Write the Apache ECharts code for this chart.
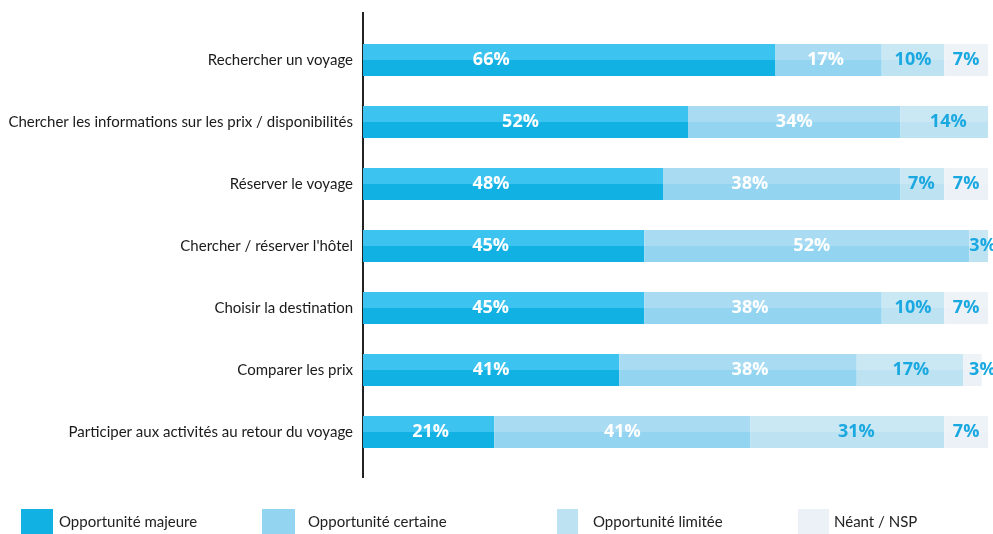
<!DOCTYPE html>
<html>
<head>
<meta charset="utf-8">
<script src="https://cdn.jsdelivr.net/npm/echarts@6/dist/echarts.min.js"></script>
<style>html,body{margin:0;padding:0;background:#fff}#c{width:993px;height:534px}</style>
</head>
<body>
<div id="c"></div>
<script>
var categories = [
  "Rechercher un voyage",
  "Chercher les informations sur les prix / disponibilités",
  "Réserver le voyage",
  "Chercher / réserver l'hôtel",
  "Choisir la destination",
  "Comparer les prix",
  "Participer aux activités au retour du voyage"
];
var seriesNames = ["Opportunité majeure", "Opportunité certaine", "Opportunité limitée", "Néant / NSP"];
var majeure  = [66, 52, 48, 45, 45, 41, 21];
var certaine = [17, 34, 38, 52, 38, 38, 41];
var limitee  = [10, 14, 7, 3, 10, 17, 31];
var neant    = [7, 0, 7, 0, 7, 3, 7];

// horizontal nudges of the value labels (px), as placed in the reference
var labelNudges = [
  [-78, -5, -22, -13, -13, 0, 2],
  [-3, 0, -32, 5, -13, 12, 0],
  [0, 4, -1, 4, 0, 1, 9],
  [0, 0, 0, 0, 0, 10, 0]
];

var topColors = ["#3dc3f0", "#a9dcf3", "#cae7f4", "#eef3f8"];
var botColors = ["#12b1e4", "#93d4f1", "#bde3f2", "#ecf1f8"];
var labelColors = ["#ffffff", "#ffffff", "#1aa8e0", "#1aa8e0"];
var allData = [majeure, certaine, limitee, neant];

function grad(i) {
  return new echarts.graphic.LinearGradient(0, 0, 0, 1, [
    {offset: 0, color: topColors[i]},
    {offset: 0.5, color: topColors[i]},
    {offset: 0.5, color: botColors[i]},
    {offset: 1, color: botColors[i]}
  ]);
}

var series = seriesNames.map(function (n, i) {
  return {
    name: n,
    type: 'bar',
    stack: 'total',
    barWidth: 32,
    data: allData[i].map(function (v, j) {
      return {value: v, label: {offset: [labelNudges[i][j], 0]}};
    }),
    itemStyle: {color: grad(i)},
    label: {
      show: true,
      position: 'inside',
      color: labelColors[i],
      fontFamily: 'Open Sans',
      fontWeight: 'bold',
      fontSize: 18,
      formatter: function (p) { return p.value > 0 ? p.value + '%' : ''; }
    },
    emphasis: {disabled: true}
  };
});

var legendLefts = [21, 262, 557, 798];
var legendWidths = [32, 33, 21, 31];
var legendPads = [1, 8, 10, 0];
var legends = seriesNames.map(function (n, i) {
  return {
    left: legendLefts[i],
    top: 509,
    padding: 0,
    itemWidth: legendWidths[i],
    itemHeight: 26,
    itemGap: 0,
    selectedMode: false,
    data: [{name: n, icon: 'rect', itemStyle: {color: botColors[i]}}],
    textStyle: {fontFamily: 'Lato', fontSize: 15, color: '#222', padding: [0, 0, 0, legendPads[i]]}
  };
});

var chart = echarts.init(document.getElementById('c'), null, {renderer: 'canvas'});
chart.setOption({
  animation: false,
  grid: {left: 363, right: 5, top: 29, bottom: 71},
  xAxis: {
    type: 'value', min: 0, max: 100, show: false
  },
  yAxis: {
    type: 'category',
    data: categories,
    inverse: true,
    axisLine: {show: false},
    axisTick: {show: false},
    axisLabel: {margin: 10, fontFamily: 'Lato', fontSize: 15, color: '#1a1a1a'}
  },
  legend: legends,
  series: series,
  graphic: [{
    type: 'line',
    shape: {x1: 363, y1: 12, x2: 363, y2: 478},
    style: {stroke: '#222', lineWidth: 2}
  }]
});
</script>
</body>
</html>
